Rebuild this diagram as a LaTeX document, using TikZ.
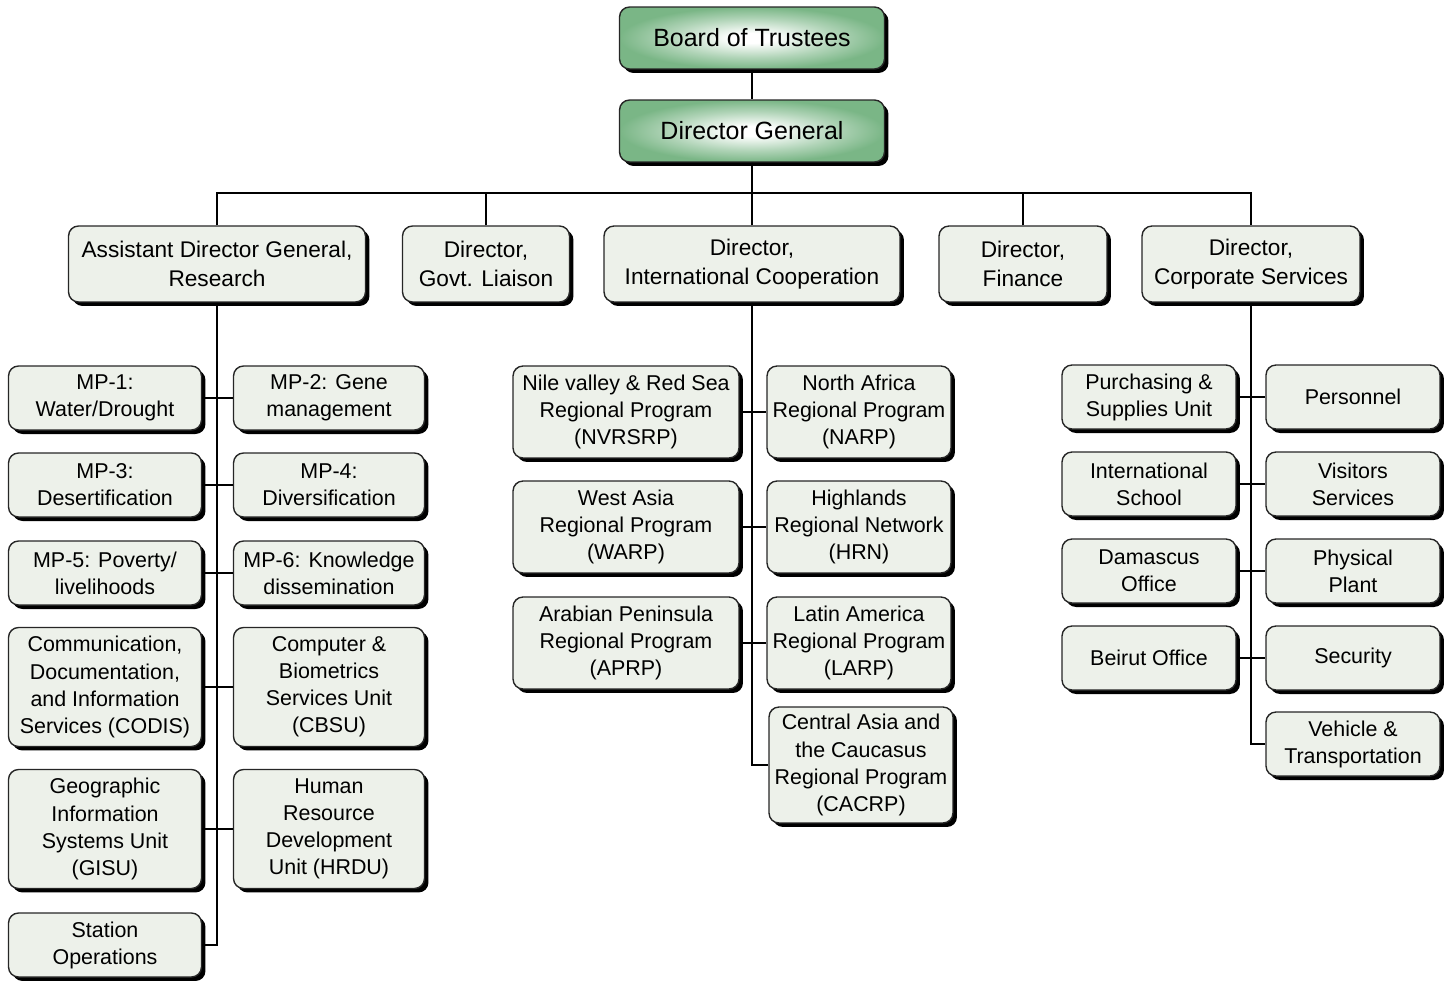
\documentclass[tikz,border=0pt]{standalone}
\usepackage{fontspec}
\setmainfont{Liberation Sans}
\usetikzlibrary{shadows}
\definecolor{boxfill}{RGB}{237,241,234}
\definecolor{topgreen}{RGB}{122,182,134}
\pgfdeclareradialshading{topshade}{\pgfpoint{0bp}{0bp}}{color(0bp)=(white); color(4bp)=(white); color(16bp)=(topgreen!60!white); color(25bp)=(topgreen); color(50bp)=(topgreen)}

\begin{document}
\begin{tikzpicture}[x=0.02cm,y=-0.02cm,line width=1.1pt]
    \tikzstyle{box}=[draw=black!85, line width=0.8pt, rounded corners=0.2cm, fill=boxfill, inner sep=0mm, align=center,
        drop shadow={shadow xshift=0.08cm, shadow yshift=-0.08cm, opacity=1, fill=black}]
    \tikzstyle{topbox}=[box, shading=topshade,
        minimum width=5.3cm, minimum height=1.24cm, font=\fontsize{14.2}{17}\selectfont]
    \tikzstyle{headbox}=[box, minimum height=1.52cm, font=\fontsize{12.9}{16.5}\selectfont]
    \tikzstyle{unit}=[box, minimum height=1.28cm, font=\fontsize{12.2}{15.4}\selectfont]
    \tikzstyle{rpbox}=[unit, minimum height=1.84cm]
    \def\adgl{105}
    \def\adgr{329}
    \def\icl{626}
    \def\icr{859}
    \def\csl{1149}
    \def\csr{1353}

    \useasboundingbox (0,0) rectangle (1448,981);

    % top
    \node[topbox] (bot) at (752,38) {Board of Trustees};
    \node[topbox] (dg) at (752,131) {Director General};

    % directors
    \node[headbox, minimum width=5.94cm] (adg) at (217,264) {Assistant Director General,\\Research};
    \node[headbox, minimum width=3.34cm] (gov) at (486,264) {Director,\\Govt. Liaison};
    \node[headbox, minimum width=5.92cm] (ic) at (752,264) {Director,\\International Cooperation};
    \node[headbox, minimum width=3.36cm] (fin) at (1023,264) {Director,\\Finance};
    \node[headbox, minimum width=4.36cm] (cs) at (1251,264) {Director,\\Corporate Services};

    % research
    \node[unit, minimum width=3.86cm] (mpa) at (\adgl,398) {MP-1:\\Water/Drought};
    \node[unit, minimum width=3.82cm] (mpb) at (\adgr,398) {MP-2: Gene\\management};
    \node[unit, minimum width=3.86cm] (mpc) at (\adgl,485) {MP-3:\\Desertification};
    \node[unit, minimum width=3.82cm] (mpd) at (\adgr,485) {MP-4:\\Diversification};
    \node[unit, minimum width=3.86cm] (mpe) at (\adgl,573) {MP-5: Poverty/\\livelihoods};
    \node[unit, minimum width=3.82cm] (mpf) at (\adgr,573) {MP-6: Knowledge\\dissemination};
    \node[unit, minimum width=3.86cm, minimum height=2.38cm] (codis) at (\adgl,687)
        {Communication,\\Documentation,\\and Information\\Services (CODIS)};
    \node[unit, minimum width=3.82cm, minimum height=2.38cm] (cbsu) at (\adgr,687)
        {Computer \&\\Biometrics\\Services Unit\\(CBSU)};
    \node[unit, minimum width=3.86cm, minimum height=2.38cm] (gisu) at (\adgl,829)
        {Geographic\\Information\\Systems Unit\\(GISU)};
    \node[unit, minimum width=3.82cm, minimum height=2.38cm] (hrdu) at (\adgr,829)
        {Human\\Resource\\Development\\Unit (HRDU)};
    \node[unit, minimum width=3.86cm] (stop) at (\adgl,945) {Station\\Operations};

    % regional programs
    \node[rpbox, minimum width=4.52cm] (nvrsrp) at (\icl,412) {Nile valley \& Red Sea\\Regional Program\\(NVRSRP)};
    \node[rpbox, minimum width=3.68cm] (narp) at (\icr,412) {North Africa\\Regional Program\\(NARP)};
    \node[rpbox, minimum width=4.52cm] (warp) at (\icl,527) {West Asia\\Regional Program\\(WARP)};
    \node[rpbox, minimum width=3.68cm] (hrn) at (\icr,527) {Highlands\\Regional Network\\(HRN)};
    \node[rpbox, minimum width=4.52cm] (aprp) at (\icl,643) {Arabian Peninsula\\Regional Program\\(APRP)};
    \node[rpbox, minimum width=3.68cm] (larp) at (\icr,643) {Latin America\\Regional Program\\(LARP)};
    \node[rpbox, minimum width=3.68cm, minimum height=2.32cm] (cacrp) at (861,765)
        {Central Asia and\\the Caucasus\\Regional Program\\(CACRP)};

    % corporate services
    \node[unit, minimum width=3.48cm] (psu) at (\csl,397) {Purchasing \&\\Supplies Unit};
    \node[unit, minimum width=3.48cm] (pers) at (\csr,397) {Personnel};
    \node[unit, minimum width=3.48cm] (isch) at (\csl,484) {International\\School};
    \node[unit, minimum width=3.48cm] (vis) at (\csr,484) {Visitors\\Services};
    \node[unit, minimum width=3.48cm] (dam) at (\csl,571) {Damascus\\Office};
    \node[unit, minimum width=3.48cm] (plant) at (\csr,571) {Physical\\Plant};
    \node[unit, minimum width=3.48cm] (bei) at (\csl,658) {Beirut Office};
    \node[unit, minimum width=3.48cm] (sec) at (\csr,658) {Security};
    \node[unit, minimum width=3.48cm] (veh) at (\csr,744) {Vehicle \&\\Transportation};

    % connectors
    \coordinate (bus) at (752,193);
    \draw (bot) -- (dg);
    \draw (dg) -- (bus);
    \draw (adg.north) |- (bus) -| (cs.north);
    \draw (gov.north) -- (gov.north |- bus);
    \draw (ic.north) -- (ic.north |- bus);
    \draw (fin.north) -- (fin.north |- bus);

    \draw (adg.south) |- (stop.east);
    \draw (ic.south) |- (cacrp.west);
    \draw (cs.south) |- (veh.west);
    \foreach \l/\r in {mpa/mpb, mpc/mpd, mpe/mpf, codis/cbsu, gisu/hrdu,
        nvrsrp/narp, warp/hrn, aprp/larp, psu/pers, isch/vis, dam/plant, bei/sec}
        \draw (\l.east) -- (\r.west);
\end{tikzpicture}
\end{document}
